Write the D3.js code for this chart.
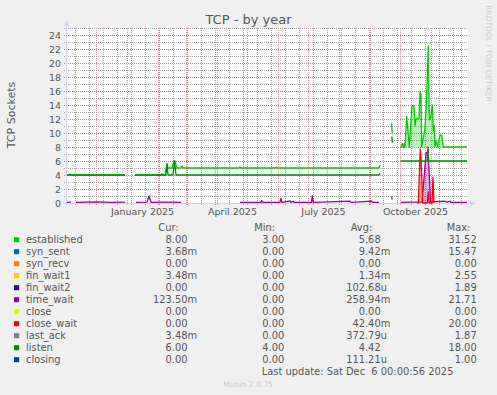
<!DOCTYPE html>
<html><head><meta charset="utf-8">
<script src="https://cdnjs.cloudflare.com/ajax/libs/d3/7.8.5/d3.min.js"></script>
<style>
html,body{margin:0;padding:0;background:#f0f0f0;}
svg{display:block;}
text{font-family:"DejaVu Sans",sans-serif;}
.pre{white-space:pre;}
</style></head><body>
<svg id="chart" width="497" height="395"></svg>
<script>
// ---------- DATA ----------
const title = "TCP - by year";
const yLabel = "TCP Sockets";
const startDate = new Date(Date.UTC(2024, 10, 2));   // left edge of the graph
const totalDays = 400;
const yTicks = [0, 2, 4, 6, 8, 10, 12, 14, 16, 18, 20, 22, 24];
const xLabels = ["January 2025", "April 2025", "July 2025", "October 2025"];
const xLabelMonths = ["2025-01-01", "2025-04-01", "2025-07-01", "2025-10-01"];

// [day offset from startDate, value]; null value = gap
const established = [[0,4],[2,4],[3,4.15],[4,4],[58,4],[59,null],[68,4],[94,4],[95,4.2],[96,4],[98,4],[100,5.7],[101,5.0],[105,5.0],[107,6.0],[108,6.0],[110,5.0],[114,5.0],[115,5.3],[116,5.0],[172,5.0],[173,5.15],[174,5.0],[208,5.0],[209,5.12],[210,5.0],[312,5.0],[313,5.45],[314,null],[324.6,11.4],[325.2,10.0],[326,null],[334,7.9],[335.3,8.5],[336.7,7.9],[337.3,8.5],[338,8.0],[339.7,12.4],[342.3,8.0],[345,13.9],[347,13.9],[348,11.0],[349,12.0],[352,12.1],[353,15.9],[354,15.5],[354.7,8.0],[356.3,9.3],[358,10.7],[359.7,15.2],[361.3,22.4],[362.3,11.9],[363.7,12.2],[365.3,14.0],[366.3,10.3],[367.3,11.0],[368,8.0],[369,8.9],[370.7,8.0],[373,9.7],[374.7,9.7],[376.3,8.0],[400,8.0]];
const synSent = [[324.6,0.9],[325.2,0.5]];
const timeWait = [[0,0.1],[4,0.12],[5,null],[9,0.1],[30,0.15],[45,0.1],[58,0.12],[59,null],[69,0.1],[80,0.12],[82,1.0],[84,0.1],[100,0.12],[114,0.1],[115,null],[173,0.1],[194,0.1],[194.7,0.35],[195.5,0.1],[213,0.1],[214,0.65],[215,0.1],[223,0.3],[224,0.1],[226,0.25],[227,0.1],[244.5,0.1],[245.3,1.05],[246.3,0.1],[283,0.28],[284,0.1],[304.7,0.28],[305.5,0.1],[312,0.1],[313,null],[334,0.1],[355,0.15],[357,3.5],[359,7.1],[360.5,7.3],[361,7.6],[362.3,4.0],[363.5,0.15],[378,0.25],[380,0.12],[383,0.25],[384,0.1],[400,0.1]];
const closeWait = [[350,0],[351.3,0],[353.3,7.7],[354,6.5],[355.7,0],[360.3,0],[361.3,1.6],[362.3,0],[365,0],[366,3.7],[367,0]];
const listen = [[0,4],[58,4],[59,null],[68,4],[99,4],[100,5.5],[101,4],[106,4],[107.5,6],[109,4],[312,4],[313,4.25],[314,null],[324.8,9.5],[325.4,8.6],[326,null],[334,6],[360.5,6],[361,8],[361.5,6],[400,6]];

const seriesNames = ["established","syn_sent","syn_recv","fin_wait1","fin_wait2","time_wait","close","close_wait","last_ack","listen","closing"];
const seriesColors = ["#00CC00","#0066B3","#FF8000","#FFCC00","#330099","#990099","#CCFF00","#FF0000","#808080","#008F00","#00487D"];
const curValues = ["8.00","3.68m","0.00","3.48m","0.00","123.50m","0.00","0.00","3.48m","6.00","0.00"];
const minValues = ["3.00","0.00","0.00","0.00","0.00","0.00","0.00","0.00","0.00","4.00","0.00"];
const avgValues = ["5.68","9.42m","0.00","1.34m","102.68u","258.94m","0.00","42.40m","372.79u","4.42","111.21u"];
const maxValues = ["31.52","15.47","0.00","2.55","1.89","21.71","0.00","20.00","1.87","18.00","1.00"];
const lastUpdate = "Last update: Sat Dec  6 00:00:56 2025";
const footer = "Munin 2.0.75";
const watermark = "RRDTOOL / TOBI OETIKER";

// ---------- DRAW ----------
const W = 497, H = 395;
const P = {left: 67, right: 467, top: 28, bottom: 203};
const FONT = "#555555", AXIS = "#CFD6F8";
const MAJOR_H = "#d67878", MINOR_H = "#a6a6a6", MAJOR_V = "#e09494", MINOR_V = "#a0a0a0";
const svg = d3.select("#chart");
svg.append("rect").attr("width", W).attr("height", H).attr("fill", "#f0f0f0");

const x = d3.scaleUtc().domain([startDate, d3.utcDay.offset(startDate, totalDays)]).range([P.left, P.right]);
const y = d3.scaleLinear().domain([0, 25]).range([P.bottom, P.top]);

svg.append("rect").attr("x", P.left).attr("y", P.top).attr("width", P.right - P.left + 1)
  .attr("height", P.bottom - P.top).attr("fill", "#ffffff");

const grid = svg.append("g").attr("fill", "none").attr("stroke-width", 1);
const minorStart = new Date(Date.UTC(2024, 9, 27));
const minorDates = d3.range(0, 40).map(k => d3.utcDay.offset(minorStart, 14 * k))
  .filter(d => d > startDate && d < x.domain()[1]);
const majorDates = d3.utcMonth.range(d3.utcDay.offset(startDate, 1), x.domain()[1]);
const hline = (yy, c) => grid.append("path").attr("d", `M${P.left - 3},${yy}H${P.right + 1}`)
  .attr("stroke", c).attr("stroke-dasharray", "1 1");
const vline = (xx, c) => grid.append("path").attr("d", `M${xx},${P.top}V${P.bottom + 3}`)
  .attr("stroke", c).attr("stroke-dasharray", "1 1");
minorDates.forEach(d => vline(Math.round(x(d)) + 0.5, MINOR_V));
d3.range(1, 26).forEach(v => hline(Math.round(y(v)) + 0.5, v % 2 === 0 ? MAJOR_H : MINOR_H));
majorDates.forEach(d => vline(Math.round(x(d)) + 0.5, MAJOR_V));

// axes lines + arrows
const ax = svg.append("g");
ax.append("line").attr("x1", P.left - 4).attr("x2", P.right + 4).attr("y1", P.bottom + 0.5).attr("y2", P.bottom + 0.5)
  .attr("stroke", AXIS);
ax.append("line").attr("x1", P.left - 0.5).attr("x2", P.left - 0.5).attr("y1", P.bottom + 4).attr("y2", P.top - 3)
  .attr("stroke", AXIS);
ax.append("path").attr("d", `M${P.right + 3},${P.bottom - 2.5}L${P.right + 9},${P.bottom + 0.5}L${P.right + 3},${P.bottom + 3.5}Z`).attr("fill", AXIS);
ax.append("path").attr("d", `M${P.left - 3.5},${P.top - 2}L${P.left - 0.5},${P.top - 8}L${P.left + 2.5},${P.top - 2}Z`).attr("fill", AXIS);

// y tick labels via axis
const yAxis = svg.append("g").attr("transform", `translate(${P.left},0)`)
  .call(d3.axisLeft(y).tickValues(yTicks).tickSize(0).tickPadding(6).tickFormat(d3.format("d")));
yAxis.select(".domain").remove();
yAxis.selectAll("text").attr("font-size", 9.4).attr("fill", FONT).attr("font-family", "DejaVu Sans");

// x labels via axis (rrdtool centres month labels half a month after the month start)
const xAxis = svg.append("g").attr("transform", `translate(0,${P.bottom})`)
  .call(d3.axisBottom(x).tickValues(xLabelMonths.map(s => d3.utcDay.offset(new Date(s + "T00:00:00Z"), 15)))
    .tickSize(0).tickPadding(5.5).tickFormat((d, i) => xLabels[i]));
xAxis.select(".domain").remove();
xAxis.selectAll("text").attr("font-size", 9.5).attr("fill", FONT).attr("font-family", "DejaVu Sans");

// series
const pt = p => ({date: new Date(startDate.getTime() + p[0] * 864e5), v: p[1]});
const line = d3.line().defined(d => d.v !== null).x(d => x(d.date)).y(d => y(d.v));
const area = base => d3.area().defined(d => d.v !== null).x(d => x(d.date)).y0(y(base)).y1(d => y(d.v));

const g = svg.append("g").attr("fill", "none");
// light fills under the autumn spikes
g.append("path").datum(established.filter(p => p[0] >= 337 && p[0] <= 377).map(pt))
  .attr("d", area(8)).attr("fill", "#00CC00").attr("fill-opacity", 0.28);
g.append("path").datum(timeWait.filter(p => p[0] >= 355 && p[0] <= 364).map(pt))
  .attr("d", area(0)).attr("fill", "#990099").attr("fill-opacity", 0.3);
g.append("path").datum(closeWait.map(pt)).attr("d", area(0)).attr("fill", "#FF0000").attr("fill-opacity", 0.3);

const drawn = [[established, 0], [synSent, 1], [timeWait, 5], [closeWait, 7], [listen, 9]];
drawn.forEach(([data, ci]) => {
  g.append("path").datum(data.map(pt)).attr("d", line)
    .attr("stroke", seriesColors[ci]).attr("stroke-width", 1.3).attr("stroke-linejoin", "round");
});

// title & labels
svg.append("text").attr("x", W / 2).attr("y", 24).attr("text-anchor", "middle")
  .attr("font-size", 13).attr("fill", FONT).text(title);
svg.append("text").attr("transform", "translate(15,115) rotate(-90)").attr("text-anchor", "middle")
  .attr("font-size", 11).attr("fill", FONT).text(yLabel);
svg.append("text").attr("transform", "translate(485.5,53.5) rotate(90)").attr("text-anchor", "middle")
  .attr("font-size", 7.5).attr("fill", "#cccccc").text(watermark);
svg.append("text").attr("x", 248).attr("y", 387).attr("text-anchor", "middle")
  .attr("font-size", 7.6).attr("fill", "#cccccc").text(footer);

// legend
const MONO = "DejaVu Sans Mono";
const LF = 9.9;
const leg = svg.append("g").attr("font-family", MONO).attr("font-size", LF).attr("fill", FONT);
const headers = [["Cur:", 158.3], ["Min:", 254.3], ["Avg:", 350.7], ["Max:", 446.7]];
headers.forEach(([t, hx]) => leg.append("text").attr("x", hx).attr("y", 230.5).text(t));
const cols = [[curValues, 187.5], [minValues, 284.3], [avgValues, 380.7], [maxValues, 476.7]];
seriesNames.forEach((name, i) => {
  const by = 242.5 + 12 * i;
  leg.append("rect").attr("x", 14).attr("y", by - 5.3).attr("width", 5.2).attr("height", 5)
    .attr("fill", seriesColors[i]);
  leg.append("text").attr("x", 26).attr("y", by).text(name);
  cols.forEach(([arr, cx]) => {
    const s = arr[i];
    const m = s.match(/^([\d.]+)([a-zA-Z]?)$/);
    leg.append("text").attr("x", cx).attr("y", by).attr("text-anchor", "end").text(m[1]);
    if (m[2]) leg.append("text").attr("x", cx).attr("y", by).text(m[2]);
  });
});
leg.append("text").attr("class", "pre").attr("xml:space", "preserve").attr("x", 261.7).attr("y", 374.5).text(lastUpdate);
</script>
</body></html>
